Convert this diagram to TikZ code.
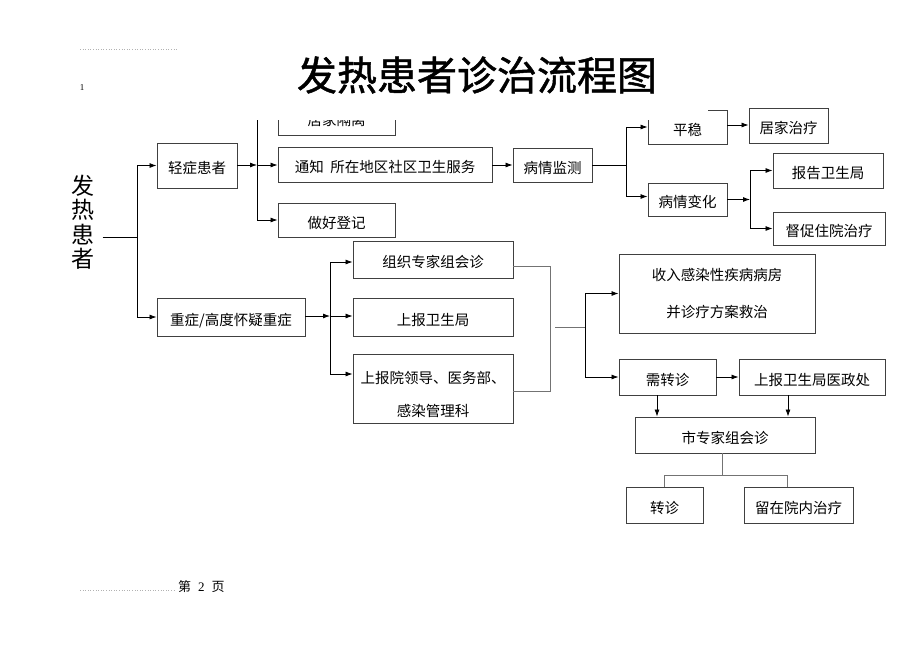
\documentclass[tikz,border=0pt]{standalone}
\usepackage{fontspec}
\setmainfont{Liberation Serif}
\newfontfamily\cjk{Noto Sans CJK SC}
\newfontfamily\cjkt[FakeBold=1.2]{Noto Sans CJK SC}
\usetikzlibrary{arrows.meta}
\begin{document}
\begin{tikzpicture}[x=1pt,y=-1pt,
  box/.style={draw=black!75,line width=0.9pt,inner sep=0pt,font=\cjk\fontsize{14.5}{16}\selectfont,align=center,text height=17.5pt,text depth=1pt},
  tbox/.style={draw=black!75,line width=0.9pt,inner sep=0pt,align=center},
  arr/.style={draw=black,line width=0.8pt,-{Latex[length=7pt,width=5pt]}},
  ln/.style={draw=black,line width=0.8pt},
  gline/.style={draw=black!55,line width=0.9pt}]
\useasboundingbox (0,0) rectangle (920,651);
% boxes
\node[box,minimum width=80pt,minimum height=45pt] (qing) at (197,165.5) {轻症患者};
\node[box,minimum width=117pt,minimum height=35pt] (jujia) at (336.5,117.5) {居家隔离};
\node[box,minimum width=214pt,minimum height=35pt] (tongzhi) at (385,164.5) {通知\ \ 所在地区社区卫生服务};
\node[box,minimum width=117pt,minimum height=34pt] (dengji) at (336.5,220) {做好登记};
\node[box,minimum width=79pt,minimum height=34pt] (jiance) at (552.5,165) {病情监测};
\node[box,minimum width=79pt,minimum height=34pt] (pingwen) at (687.5,127) {平稳};
\node[box,minimum width=79pt,minimum height=35pt] (jujiazl) at (788.5,125.5) {居家治疗};
\node[box,minimum width=79pt,minimum height=33pt] (bianhua) at (687.5,199.5) {病情变化};
\node[box,minimum width=110pt,minimum height=35pt] (baogao) at (828,170.5) {报告卫生局};
\node[box,minimum width=112pt,minimum height=33pt] (duchu) at (829,228.5) {督促住院治疗};
\node[box,minimum width=148pt,minimum height=38pt] (zhong) at (231,317) {重症/高度怀疑重症};
\node[box,minimum width=160pt,minimum height=37pt] (zuzhi) at (433,259.5) {组织专家组会诊};
\node[box,minimum width=160pt,minimum height=38pt] (shangbao) at (433,317) {上报卫生局};
\node[tbox,minimum width=160pt,minimum height=69pt,text height=58pt,font=\cjk\fontsize{14.5}{33}\selectfont] (yuanling) at (433,388.5) {上报院领导、医务部、\\感染管理科};
\node[tbox,minimum width=196pt,minimum height=79pt,font=\cjk\fontsize{14.5}{37}\selectfont] (shouru) at (717,293.5) {收入感染性疾病病房\\并诊疗方案救治};
\node[box,minimum width=97pt,minimum height=36pt] (xuzhuan) at (667.5,377) {需转诊};
\node[box,minimum width=146pt,minimum height=36pt] (yizheng) at (812,377) {上报卫生局医政处};
\node[box,minimum width=180pt,minimum height=36pt] (shizj) at (725,435) {市专家组会诊};
\node[box,minimum width=77pt,minimum height=36pt] (zhuanzhen) at (664.5,505) {转诊};
\node[box,minimum width=109pt,minimum height=36pt] (liuzai) at (798.5,505) {留在院内治疗};
% left vertical label
\node[font=\cjk\fontsize{23}{24.5}\selectfont,align=center,inner sep=0pt] (fz) at (83,222) {发\\热\\患\\者};
% junctions
\coordinate (b0) at (137,237);
\coordinate (b1) at (257,165);
\coordinate (b2) at (626,165);
\coordinate (b3) at (750,199.5);
\coordinate (b4) at (330,316);
\coordinate (c1) at (555,327);
\coordinate (b5) at (585,327);
\coordinate (b6) at (722,475);
% connectors
\draw[ln] ([xshift=8pt]fz.east |- b0) -- (b0);
\draw[arr] (b0) |- (qing.west);
\draw[arr] (b0) |- (zhong.west);
\draw[arr] (qing.east |- b1) -- (b1);
\draw[arr] (b1) -- (b1 -| tongzhi.west);
\draw[arr] (b1) |- (jujia.west);
\draw[arr] (b1) |- (dengji.west);
\draw[arr] (tongzhi.east |- jiance) -- (jiance.west);
\draw[ln] (jiance.east) -- (b2);
\draw[arr] (b2) |- (pingwen.west);
\draw[arr] (b2) |- ([yshift=3pt]bianhua.west);
\draw[arr] ([yshift=2pt]pingwen.east) -- ([yshift=2pt]pingwen.east -| jujiazl.west);
\draw[arr] (bianhua.east) -- (b3);
\draw[arr] (b3) |- (baogao.west);
\draw[arr] (b3) |- (duchu.west);
\draw[arr] (zhong.east |- b4) -- (b4);
\draw[arr] (b4) -- (b4 -| shangbao.west);
\draw[arr] (b4) |- ([yshift=-2.5pt]zuzhi.west);
\draw[arr] (b4) |- ([yshift=14.5pt]yuanling.west);
\draw[gline] ([yshift=-6.5pt]zuzhi.east) -- ++(37,0) |- ([yshift=-2.5pt]yuanling.east);
\draw[gline] (c1) -- (b5);
\draw[arr] (b5) |- (shouru.west);
\draw[arr] (b5) |- (xuzhuan.west);
\draw[arr] (xuzhuan.east) -- (yizheng.west);
\draw[arr] ([xshift=-10.5pt]xuzhuan.south) -- ([xshift=-10.5pt]xuzhuan.south |- shizj.north);
\draw[arr] ([xshift=-24pt]yizheng.south) -- ([xshift=-24pt]yizheng.south |- shizj.north);
\draw[gline] (b6 |- shizj.south) -- (b6);
\draw[gline] (zhuanzhen.north) |- (b6);
\draw[gline] ([xshift=-11.5pt]liuzai.north) |- (b6);
% title block covering top of diagram
\fill[white] (245,40) rectangle (708,120);
\node[font=\cjkt\fontsize{40}{44}\selectfont,inner sep=0pt] (title) at (477,75) {发热患者诊治流程图};
% page decorations
\draw[black!30,line width=0.6pt,dotted] (80,49) -- (178,49);
\node[font=\fontsize{9}{10}\selectfont,inner sep=0pt] (one) at (82,88) {1};
\draw[black!30,line width=0.6pt,dotted] (80,590) -- (175,590);
\node[font=\fontsize{13}{14}\selectfont,inner sep=0pt,anchor=west] (page) at (178,587) {{\cjk 第}\hspace{7pt}2\hspace{7pt}{\cjk 页}};
\end{tikzpicture}
\end{document}
